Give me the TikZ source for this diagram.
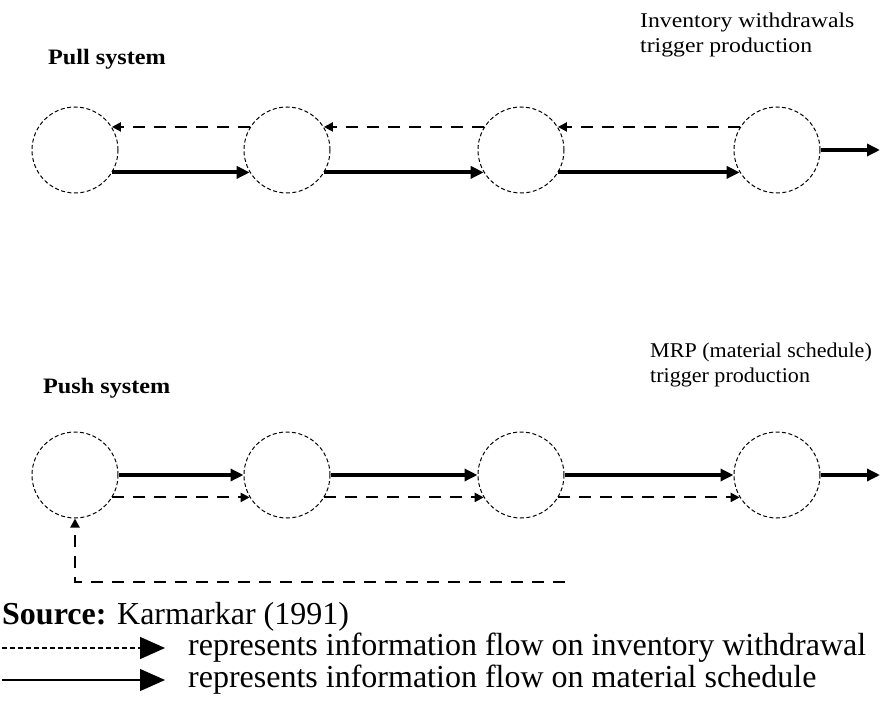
\documentclass[tikz,border=0pt]{standalone}
\usepackage{fontspec}
\setmainfont{Liberation Serif}
\newfontfamily\headfont[FakeStretch=1.1]{Liberation Serif}
\newfontfamily\pullfont[FakeStretch=1.13]{Liberation Serif}
\newfontfamily\pushfont[FakeStretch=1.05]{Liberation Serif}
\usetikzlibrary{arrows.meta}
\begin{document}
\begin{tikzpicture}[x=1pt,y=-1pt,
  station/.style={circle, draw, dash pattern=on 4pt off 2.5pt, line width=1pt,
    minimum size=86pt, inner sep=0pt},
  material/.style={line width=4pt, -{Triangle[length=13pt,width=12pt]}},
  info/.style={line width=2pt, dash pattern=on 12pt off 9pt,
    -{Triangle[length=9pt,width=9pt]}},
  heading/.style={font=\headfont\fontsize{22}{22}\selectfont\bfseries,
    anchor=base west, inner sep=0pt},
  note/.style={font=\fontsize{21}{21}\selectfont, anchor=base west, inner sep=0pt},
  legend/.style={font=\fontsize{32}{32}\selectfont, anchor=base west, inner sep=0pt},
  legdash/.style={line width=1.5pt, dash pattern=on 5pt off 3pt,
    -{Triangle[length=25pt,width=22pt]}},
  legsolid/.style={line width=1.2pt, -{Triangle[length=25pt,width=22pt]}}]

\useasboundingbox (0,0) rectangle (880,711);

% ---------- pull system ----------
\node[heading] (pullT) at (48,65) {Pull system};
\node[note] (pullN1) at (640,28) {\pullfont Inventory withdrawals};
\node[note] (pullN2) at (640,53) {\pullfont trigger production};

\node[station] (p1) at (75,150) {};
\node[station] (p2) at (287,150) {};
\node[station] (p3) at (521,150) {};
\node[station] (p4) at (777,150) {};
\coordinate (pout) at (880,150);

\foreach \a/\b in {p1/p2,p2/p3,p3/p4}{
  \draw[material] (\a.-31) -- (\b.-149);
  \draw[info] (\b.148) -- (\a.32);
}
\draw[material] (p4.east) -- (pout);

% ---------- push system ----------
\node[heading] (pushT) at (43,393) {Push system};
\node[note] (pushN1) at (650,357) {\pushfont MRP (material schedule)};
\node[note] (pushN2) at (650,382) {\pushfont trigger production};

\node[station] (q1) at (75,475) {};
\node[station] (q2) at (287,475) {};
\node[station] (q3) at (521,475) {};
\node[station] (q4) at (777,475) {};
\coordinate (qout) at (880,475);
\coordinate (fb) at (565,582);

\foreach \a/\b in {q1/q2,q2/q3,q3/q4}{
  \draw[material] (\a.east) -- (\b.west);
  \draw[info] (\a.-31) -- (\b.-149);
}
\draw[material] (q4.east) -- (qout);
\draw[info] (fb) -| (q1.south);

% ---------- source and legend ----------
\node[legend] (src) at (2,624) {\textbf{Source:} Karmarkar (1991)};

\coordinate (d0) at (2,648);
\coordinate (d1) at (165,648);
\draw[legdash] (d0) -- (d1);
\node[legend] (lg1) at (188,655) {represents information flow on inventory withdrawal};

\coordinate (s0) at (2,680);
\coordinate (s1) at (165,680);
\draw[legsolid] (s0) -- (s1);
\node[legend] (lg2) at (188,687) {represents information flow on material schedule};
\end{tikzpicture}
\end{document}
